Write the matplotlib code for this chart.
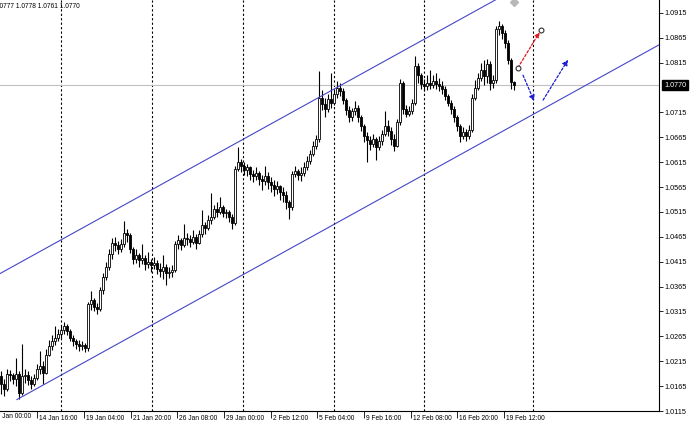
import numpy as np
import matplotlib
matplotlib.use("Agg")
import matplotlib.pyplot as plt
from matplotlib.transforms import ScaledTranslation, blended_transform_factory

plt.rcParams['font.family'] = ['Liberation Sans', 'DejaVu Sans']

# H4 candles (open of each bar = previous close)
first_open = 1.0185
closes = [1.0170, 1.0160, 1.0190, 1.0188, 1.0180, 1.0190, 1.0152, 1.0185, 1.0188, 1.0178,
          1.0170, 1.0182, 1.0200, 1.0205, 1.0192, 1.0228, 1.0245, 1.0255, 1.0262, 1.0270,
          1.0278, 1.0285, 1.0276, 1.0262, 1.0255, 1.0250, 1.0246, 1.0248, 1.0242, 1.0330,
          1.0338, 1.0325, 1.0320, 1.0358, 1.0385, 1.0405, 1.0430, 1.0452, 1.0448, 1.0440,
          1.0450, 1.0472, 1.0468, 1.0440, 1.0420, 1.0428, 1.0418, 1.0422, 1.0410, 1.0415,
          1.0408, 1.0412, 1.0400, 1.0396, 1.0405, 1.0392, 1.0395, 1.0398, 1.0450, 1.0458,
          1.0448, 1.0462, 1.0460, 1.0455, 1.0465, 1.0452, 1.0470, 1.0488, 1.0482, 1.0498,
          1.0505, 1.0522, 1.0515, 1.0525, 1.0512, 1.0515, 1.0505, 1.0492, 1.0602, 1.0615,
          1.0608, 1.0600, 1.0605, 1.0592, 1.0588, 1.0594, 1.0582, 1.0578, 1.0588, 1.0575,
          1.0570, 1.0562, 1.0568, 1.0555, 1.0550, 1.0535, 1.0525, 1.0592, 1.0598, 1.0590,
          1.0594, 1.0605, 1.0618, 1.0632, 1.0648, 1.0662, 1.0745, 1.0732, 1.0722, 1.0742,
          1.0735, 1.0752, 1.0765, 1.0758, 1.0740, 1.0720, 1.0705, 1.0718, 1.0725, 1.0705,
          1.0688, 1.0668, 1.0660, 1.0652, 1.0662, 1.0645, 1.0658, 1.0672, 1.0688, 1.0678,
          1.0662, 1.0648, 1.0695, 1.0775, 1.0722, 1.0712, 1.0718, 1.0735, 1.0808, 1.0790,
          1.0772, 1.0768, 1.0775, 1.0770, 1.0778, 1.0772, 1.0768, 1.0762, 1.0748, 1.0735,
          1.0722, 1.0705, 1.0688, 1.0668, 1.0675, 1.0668, 1.0680, 1.0745, 1.0765, 1.0785,
          1.0800, 1.0788, 1.0812, 1.0775, 1.0780, 1.0882, 1.0888, 1.0875, 1.0855, 1.0820,
          1.0777, 1.0770]
highs = [1.0195, 1.0180, 1.0200, 1.0198, 1.0192, 1.0222, 1.0195, 1.0250, 1.0200, 1.0195,
         1.0185, 1.0190, 1.0210, 1.0235, 1.0215, 1.0240, 1.0258, 1.0268, 1.0285, 1.0280,
         1.0288, 1.0294, 1.0290, 1.0280, 1.0268, 1.0260, 1.0258, 1.0256, 1.0252, 1.0335,
         1.0356, 1.0342, 1.0332, 1.0365, 1.0392, 1.0415, 1.0440, 1.0462, 1.0465, 1.0456,
         1.0460, 1.0497, 1.0480, 1.0472, 1.0445, 1.0440, 1.0432, 1.0450, 1.0428, 1.0435,
         1.0420, 1.0425, 1.0418, 1.0412, 1.0428, 1.0410, 1.0405, 1.0408, 1.0456, 1.0468,
         1.0462, 1.0490, 1.0472, 1.0468, 1.0478, 1.0470, 1.0478, 1.0520, 1.0495, 1.0508,
         1.0553, 1.0530, 1.0535, 1.0545, 1.0530, 1.0522, 1.0520, 1.0510, 1.0608, 1.0645,
         1.0622, 1.0615, 1.0612, 1.0608, 1.0600, 1.0605, 1.0598, 1.0590, 1.0608, 1.0595,
         1.0585, 1.0580, 1.0578, 1.0570, 1.0565, 1.0558, 1.0540, 1.0598, 1.0608, 1.0602,
         1.0605, 1.0615, 1.0628, 1.0640, 1.0658, 1.0670, 1.0798, 1.0760, 1.0745, 1.0752,
         1.0795, 1.0760, 1.0778, 1.0775, 1.0765, 1.0745, 1.0728, 1.0725, 1.0738, 1.0730,
         1.0710, 1.0692, 1.0675, 1.0668, 1.0672, 1.0665, 1.0668, 1.0680, 1.0718, 1.0700,
         1.0685, 1.0672, 1.0702, 1.0782, 1.0778, 1.0730, 1.0728, 1.0742, 1.0828, 1.0815,
         1.0795, 1.0782, 1.0790, 1.0800, 1.0790, 1.0795, 1.0785, 1.0778, 1.0768, 1.0752,
         1.0740, 1.0728, 1.0710, 1.0692, 1.0685, 1.0682, 1.0690, 1.0752, 1.0780, 1.0795,
         1.0815, 1.0820, 1.0822, 1.0818, 1.0790, 1.0888, 1.0898, 1.0892, 1.0880, 1.0860,
         1.0825, 1.0778]
lows = [1.0150, 1.0145, 1.0155, 1.0175, 1.0170, 1.0165, 1.0140, 1.0148, 1.0172, 1.0168,
        1.0160, 1.0165, 1.0178, 1.0190, 1.0170, 1.0190, 1.0225, 1.0238, 1.0248, 1.0255,
        1.0262, 1.0270, 1.0268, 1.0255, 1.0245, 1.0240, 1.0236, 1.0238, 1.0234, 1.0236,
        1.0318, 1.0315, 1.0310, 1.0315, 1.0350, 1.0378, 1.0398, 1.0420, 1.0436, 1.0430,
        1.0435, 1.0445, 1.0455, 1.0432, 1.0410, 1.0412, 1.0405, 1.0410, 1.0398, 1.0402,
        1.0395, 1.0400, 1.0390, 1.0385, 1.0380, 1.0368, 1.0382, 1.0385, 1.0395, 1.0440,
        1.0438, 1.0445, 1.0448, 1.0445, 1.0450, 1.0440, 1.0450, 1.0465, 1.0470, 1.0478,
        1.0490, 1.0500, 1.0505, 1.0510, 1.0505, 1.0502, 1.0495, 1.0480, 1.0488, 1.0598,
        1.0595, 1.0590, 1.0588, 1.0580, 1.0575, 1.0580, 1.0570, 1.0560, 1.0570, 1.0562,
        1.0555, 1.0548, 1.0552, 1.0540, 1.0535, 1.0522, 1.0500, 1.0520, 1.0585, 1.0580,
        1.0578, 1.0588, 1.0600, 1.0612, 1.0628, 1.0642, 1.0655, 1.0720, 1.0705, 1.0715,
        1.0725, 1.0730, 1.0745, 1.0748, 1.0732, 1.0710, 1.0695, 1.0698, 1.0710, 1.0695,
        1.0678, 1.0655, 1.0615, 1.0640, 1.0645, 1.0620, 1.0640, 1.0650, 1.0668, 1.0668,
        1.0650, 1.0638, 1.0645, 1.0690, 1.0712, 1.0705, 1.0708, 1.0712, 1.0730, 1.0775,
        1.0762, 1.0758, 1.0760, 1.0762, 1.0765, 1.0762, 1.0758, 1.0752, 1.0740, 1.0728,
        1.0712, 1.0695, 1.0678, 1.0655, 1.0662, 1.0658, 1.0662, 1.0675, 1.0740, 1.0760,
        1.0778, 1.0770, 1.0775, 1.0760, 1.0765, 1.0775, 1.0870, 1.0862, 1.0845, 1.0812,
        1.0762, 1.0761]
opens = [first_open] + closes[:-1]

# time axis labels (bar positions where MT4 put them)
tick_labels = ["12 Jan 00:00", "14 Jan 16:00", "19 Jan 04:00", "21 Jan 20:00", "26 Jan 08:00",
               "29 Jan 00:00", "2 Feb 12:00", "5 Feb 04:00", "9 Feb 16:00", "12 Feb 08:00",
               "16 Feb 20:00", "19 Feb 12:00"]
tick_pos = [-3.47, 12.1, 27.67, 43.23, 58.77, 74.33, 89.9, 105.43, 121.0, 136.57, 152.1, 167.67]
grid_pos = [20.1, 50.43, 80.77, 111.0, 141.1, 177.4]

price_ticks = [1.0115, 1.0165, 1.0215, 1.0265, 1.0315, 1.0365, 1.0415, 1.0465, 1.0515,
               1.0565, 1.0615, 1.0665, 1.0715, 1.0815, 1.0865, 1.0915]
bid = 1.0770
ohlc_text = "1.0777 1.0778 1.0761 1.0770"

# channel: two points on the lower line, upper line is parallel
chan_x = [5.3, 150.0]
chan_y = [1.0138, 1.0620]
chan_width = 0.0272

# projection arrows (bar, price)
red_arrow = [(172.3, 1.0805), (180.0, 1.0881)]
blue_arrows = [[(174.0, 1.0790), (177.7, 1.0738)], [(180.7, 1.0740), (189.0, 1.0821)]]

fig = plt.figure(figsize=(6.9, 4.28), dpi=100)
ax = fig.add_axes([0, 1 - 411 / 428, 659 / 690, 411 / 428])
xmin, xmax = -0.333, 219.33
ymin, ymax = 1.0115, 1.09411

for g in grid_pos:
    ax.axvline(g, color="black", lw=0.8, linestyle=(0, (2, 2)), zorder=1)
ax.axhline(bid, color="#c0c0c0", lw=0.8, zorder=1)

# candles
x = np.arange(len(closes))
o = np.array(opens)
c = np.array(closes)
ax.vlines(x, lows, highs, color="black", lw=0.8, zorder=2)
up = c >= o
ax.bar(x[up], c[up] - o[up], bottom=o[up], width=0.75, facecolor="white",
       edgecolor="black", linewidth=0.6, zorder=3)
ax.bar(x[~up], o[~up] - c[~up], bottom=c[~up], width=0.75, facecolor="black",
       edgecolor="black", linewidth=0.6, zorder=3)

# channel lines
slope = (chan_y[1] - chan_y[0]) / (chan_x[1] - chan_x[0])
lo_x = np.array([chan_x[0], xmax])
ax.plot(lo_x, chan_y[0] + slope * (lo_x - chan_x[0]), color="#4646c8", lw=0.8, zorder=4)
up_x = np.array([xmin, xmax])
ax.plot(up_x, chan_y[0] + chan_width + slope * (up_x - chan_x[0]), color="#4646c8", lw=0.8, zorder=4)

# arrows
ax.annotate("", xy=red_arrow[1], xytext=red_arrow[0],
            arrowprops=dict(arrowstyle="-|>", color="#e01818", lw=0.9,
                            linestyle=(0, (2, 1.5)), mutation_scale=7, shrinkA=0, shrinkB=2))
ax.plot([p[0] for p in red_arrow], [p[1] for p in red_arrow], "o", ms=3.5,
        mfc="white", mec="#303030", mew=0.8, zorder=6)
for a in blue_arrows:
    ax.annotate("", xy=a[1], xytext=a[0],
                arrowprops=dict(arrowstyle="-|>", color="#1c1cd0", lw=0.9,
                                linestyle=(0, (2, 1.5)), mutation_scale=8, shrinkA=0, shrinkB=0))
ax.plot([171.0], [1.0937], "D", ms=4, color="#b8b8b8", zorder=5)

# axes look (MT4 style)
for s in ["left", "top"]:
    ax.spines[s].set_visible(False)
ax.spines["right"].set_linewidth(0.8)
ax.spines["bottom"].set_linewidth(0.8)
ax.yaxis.tick_right()
ax.set_yticks(price_ticks)
ax.set_yticklabels([f"{v:.4f}" for v in price_ticks])
ax.tick_params(axis="y", direction="out", length=3, width=0.6, pad=0.8, labelsize=5.2)
ax.set_xticks(tick_pos[1:])
ax.set_xticklabels(tick_labels[1:], ha="left")
ax.tick_params(axis="x", direction="out", length=5, width=0.6, pad=-2, labelsize=4.8)
shift = ScaledTranslation(2 / 100, 0, fig.dpi_scale_trans)
for lab in ax.get_xticklabels():
    lab.set_transform(lab.get_transform() + shift)
ax.set_xlim(xmin, xmax)
ax.set_ylim(ymin, ymax)

# first time label sits left of the chart edge, only its tail shows
xlab_trans = blended_transform_factory(ax.transData, ax.transAxes) + shift
ax.text(tick_pos[0], -0.0135, tick_labels[0], transform=xlab_trans, ha="left", va="center",
        fontsize=4.8, clip_on=False)

trans = blended_transform_factory(ax.transAxes, ax.transData)
ax.text(675 / 659, bid, f"{bid:.4f}", transform=trans, ha="center", va="center",
        fontsize=5.2, color="white", clip_on=False,
        bbox=dict(boxstyle="square,pad=0.2", fc="black", ec="black"))

fig.text(-6 / 690, 1 - 6 / 428, ohlc_text, ha="left", va="center", fontsize=4.8)

fig.savefig("out.png", dpi=100)
